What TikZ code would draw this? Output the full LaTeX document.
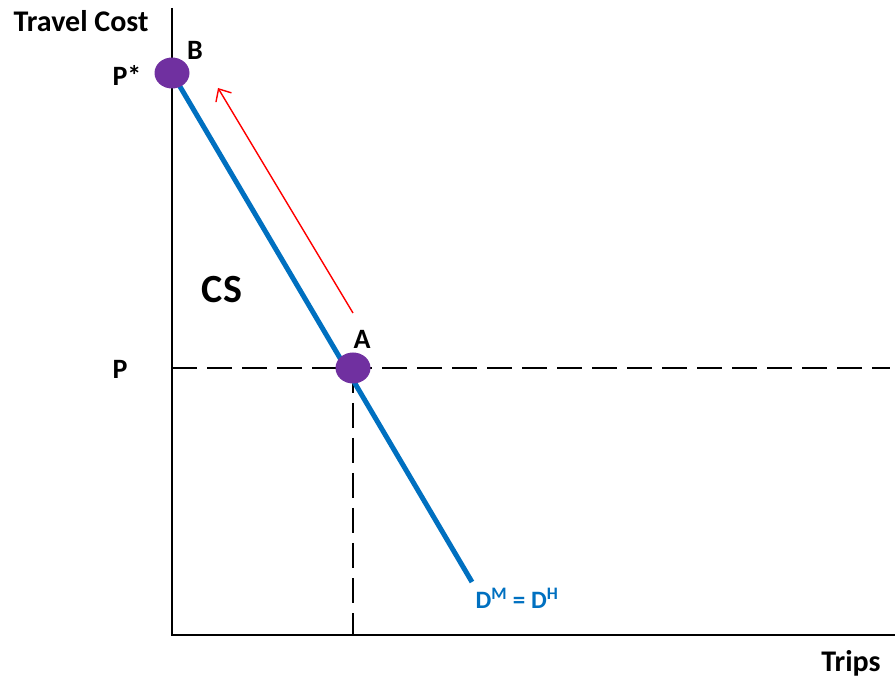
\documentclass[tikz,border=0pt]{standalone}
\usepackage{fontspec}
\setmainfont{Carlito}
\usetikzlibrary{arrows.meta,shapes.geometric}
\definecolor{dblue}{RGB}{0,112,192}
\definecolor{dpurple}{RGB}{112,48,160}
\definecolor{dred}{RGB}{255,0,0}
\begin{document}
\begin{tikzpicture}[x=1pt,y=-1pt,
  lbl/.style={font=\bfseries\fontsize{28}{32}\selectfont, inner sep=0pt},
  ttl/.style={font=\bfseries\fontsize{30}{34}\selectfont, inner sep=0pt},
  axis/.style={line width=2.5pt, black},
  guide/.style={line width=2.7pt, black, dash pattern=on 25pt off 10pt},
  dot/.style={ellipse, fill=dpurple, minimum width=35pt, minimum height=31pt, inner sep=0pt}]
\useasboundingbox (0,0) rectangle (895,684);
\coordinate (top) at (172,8);
\coordinate (origin) at (172,635);
\coordinate (right) at (895,635);
\coordinate (pleft) at (172,368);
\coordinate (pright) at (890,368);
\coordinate (qtop) at (353,368);
\coordinate (qbot) at (353,635);
\coordinate (dend) at (472,582);
\draw[axis] (top) -- (origin) -- (right);
\draw[guide] (pleft) -- (pright);
\draw[guide] (qtop) -- (qbot);
\coordinate (Bc) at (172,73);
\coordinate (Ac) at (353,368);
\draw[dblue, line width=5pt] (Bc) -- (dend);
\node[dot] (B) at (Bc) {};
\node[dot] (A) at (Ac) {};
\coordinate (as) at (353,313);
\coordinate (ae) at (218,88);
\draw[dred, line width=1.4pt, -{Straight Barb[length=10pt,width=18pt]}] (as) -- (ae);
\node[ttl] (yl) at (81,21) {Travel Cost};
\node[ttl] (xl) at (851,663) {Trips};
\node[lbl] (bl) at (195,50) {B};
\node[lbl] (pstar) at (127,75) {P*};
\node[lbl] (al) at (362,339) {A};
\node[lbl] (pl) at (120,369) {P};
\node[lbl, font=\bfseries\fontsize{40}{44}\selectfont] (cs) at (222,290) {CS};
\node[lbl, text=dblue, font=\bfseries\fontsize{25}{29}\selectfont] (dl) at (517,598) {D\textsuperscript{M} = D\textsuperscript{H}};
\end{tikzpicture}
\end{document}
